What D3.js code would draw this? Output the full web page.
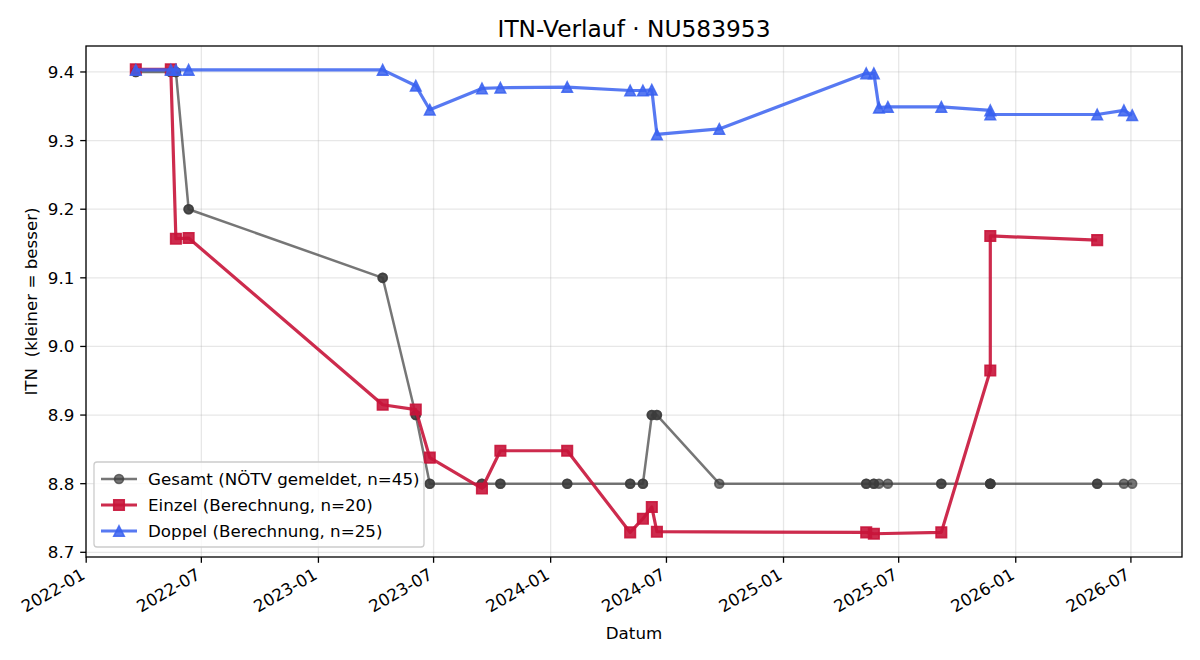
<!DOCTYPE html>
<html>
<head>
<meta charset="utf-8">
<title>ITN-Verlauf</title>
<script src="https://cdn.jsdelivr.net/npm/d3@7/dist/d3.min.js"></script>
<style>
  html, body { margin: 0; padding: 0; background: #ffffff; }
  #chart-wrapper { width: 1200px; height: 660px; }
</style>
</head>
<body>
<div id="chart-wrapper"></div>
<script>
// ############################################################################
// Data
// ############################################################################

const title = "ITN-Verlauf \u00b7 NU583953"

// Einzel (Berechnung)
const einzelDates = [
  "2022-03-20", "2022-05-14", "2022-05-22", "2022-06-11", "2023-04-12",
  "2023-06-03", "2023-06-25", "2023-09-15", "2023-10-14", "2024-01-27",
  "2024-05-05", "2024-05-25", "2024-06-08", "2024-06-16", "2025-05-11",
  "2025-05-23", "2025-09-06", "2025-11-22", "2025-11-22", "2026-05-09"
]
const einzelValues = [
  9.404, 9.404, 9.157, 9.158, 8.915,
  8.908, 8.838, 8.793, 8.848, 8.848,
  8.729, 8.749, 8.766, 8.730, 8.729,
  8.727, 8.729, 8.965, 9.161, 9.155
]

// Doppel (Berechnung)
const doppelDates = [
  "2022-03-20", "2022-05-14", "2022-05-22", "2022-06-11", "2023-04-12",
  "2023-06-03", "2023-06-25", "2023-09-15", "2023-10-14", "2024-01-27",
  "2024-05-05", "2024-05-25", "2024-06-08", "2024-06-16", "2024-09-22",
  "2025-05-11", "2025-05-23", "2025-05-31", "2025-06-14", "2025-09-06",
  "2025-11-22", "2025-11-22", "2026-05-09", "2026-06-20", "2026-07-03"
]
const doppelValues = [
  9.403, 9.403, 9.403, 9.403, 9.403,
  9.380, 9.345, 9.376, 9.377, 9.378,
  9.373, 9.373, 9.374, 9.309, 9.317,
  9.398, 9.398, 9.348, 9.349, 9.349,
  9.344, 9.338, 9.338, 9.344, 9.337
]

// Gesamt (NÖTV gemeldet) - one entry per match, same day may repeat
const gesamtDates = [
  "2022-03-20", "2022-03-20", "2022-05-14", "2022-05-14", "2022-05-22",
  "2022-05-22", "2022-06-11", "2022-06-11", "2023-04-12", "2023-04-12",
  "2023-06-03", "2023-06-03", "2023-06-25", "2023-06-25", "2023-09-15",
  "2023-09-15", "2023-10-14", "2023-10-14", "2024-01-27", "2024-01-27",
  "2024-05-05", "2024-05-05", "2024-05-25", "2024-05-25", "2024-06-08",
  "2024-06-08", "2024-06-16", "2024-06-16", "2024-09-22", "2025-05-11",
  "2025-05-11", "2025-05-23", "2025-05-23", "2025-05-31", "2025-06-14",
  "2025-09-06", "2025-09-06", "2025-11-22", "2025-11-22", "2025-11-22",
  "2025-11-22", "2026-05-09", "2026-05-09", "2026-06-20", "2026-07-03"
]
const gesamtValues = [
  9.40, 9.40, 9.40, 9.40, 9.40,
  9.40, 9.20, 9.20, 9.10, 9.10,
  8.90, 8.90, 8.80, 8.80, 8.80,
  8.80, 8.80, 8.80, 8.80, 8.80,
  8.80, 8.80, 8.80, 8.80, 8.90,
  8.90, 8.90, 8.90, 8.80, 8.80,
  8.80, 8.80, 8.80, 8.80, 8.80,
  8.80, 8.80, 8.80, 8.80, 8.80,
  8.80, 8.80, 8.80, 8.80, 8.80
]

const yTickValues = [8.7, 8.8, 8.9, 9.0, 9.1, 9.2, 9.3, 9.4]


// ############################################################################
// Chart                                                                  View
// ############################################################################

class ItnChart
{
  // ==========================================================================
  // Construct chart
  // ==========================================================================

  constructor(containerId, series)
  {
    this._width  =  1200
    this._height =  660
    this._margins = { left: 86, right: 18, top: 46, bottom: 103 }
    this._font =    "'DejaVu Sans', 'Liberation Sans', sans-serif"
    this._fontSize = "16.7px"
    this._tickLen = 5.8
    this._series =  series

    this._setupContainer(containerId)
    this._setupScales()
    this._drawGrid()
    this._drawSeries()
    this._drawAxes()
    this._drawLegend()
    this._writeMetadata()
  }


  // ==========================================================================
  // Setup svg
  // ==========================================================================

  _setupContainer(containerId)
  {
    this._chart = d3.select("#" + containerId)
      .append("svg")
      .attr("width",  this._width)
      .attr("height", this._height)
      .attr("xmlns",  "http://www.w3.org/2000/svg")
      .style("font-family", this._font)
      .style("background-color", "#ffffff")

    this._x0 = this._margins.left
    this._x1 = this._width - this._margins.right
    this._y0 = this._margins.top
    this._y1 = this._height - this._margins.bottom
  }


  // ==========================================================================
  // Scales, padded by 5% of the data range like matplotlib does
  // ==========================================================================

  _setupScales()
  {
    let allDates =  []
    let allValues = []
    this._series.forEach(s =>
      {
        s.points.forEach(p => { allDates.push(+p.date); allValues.push(p.value) })
      }
    )

    let dMin = d3.min(allDates), dMax = d3.max(allDates)
    let vMin = d3.min(allValues), vMax = d3.max(allValues)
    let dPad = (dMax - dMin) * 0.05
    let vPad = (vMax - vMin) * 0.05

    this._x = d3.scaleTime()
      .domain([new Date(dMin - dPad), new Date(dMax + dPad)])
      .range([this._x0, this._x1])

    this._y = d3.scaleLinear()
      .domain([vMin - vPad, vMax + vPad])
      .range([this._y1, this._y0])

    this._xTicks = d3.timeMonth.every(6).range(
      d3.timeMonth.ceil(this._x.domain()[0]),
      this._x.domain()[1]
    )
  }


  // ==========================================================================
  // Grid lines
  // ==========================================================================

  _drawGrid()
  {
    let grid = this._chart.append("g").attr("class", "grid")

    grid.selectAll("line.gx")
      .data(this._xTicks)
      .join("line")
      .attr("class", "gx")
      .attr("x1", d => this._x(d))
      .attr("x2", d => this._x(d))
      .attr("y1", this._y0)
      .attr("y2", this._y1)
      .attr("stroke", "#b0b0b0")
      .attr("stroke-opacity", 0.3)
      .attr("stroke-width", 1.3)

    grid.selectAll("line.gy")
      .data(yTickValues)
      .join("line")
      .attr("class", "gy")
      .attr("x1", this._x0)
      .attr("x2", this._x1)
      .attr("y1", d => this._y(d))
      .attr("y2", d => this._y(d))
      .attr("stroke", "#b0b0b0")
      .attr("stroke-opacity", 0.3)
      .attr("stroke-width", 1.3)
  }


  // ==========================================================================
  // Marker shapes
  // ==========================================================================

  _markerPath(shape, size)
  {
    let h = size / 2
    if (shape == "square")
      return "M" + (-h) + "," + (-h) + "H" + h + "V" + h + "H" + (-h) + "Z"
    if (shape == "triangle")
      return "M0," + (-h) + "L" + h + "," + h + "L" + (-h) + "," + h + "Z"
    return d3.symbol(d3.symbolCircle, Math.PI * h * h)()
  }


  // ==========================================================================
  // Lines and markers
  // ==========================================================================

  _drawSeries()
  {
    let line = d3.line()
      .x(d => this._x(d.date))
      .y(d => this._y(d.value))

    this._series.forEach(s =>
      {
        let g = this._chart.append("g").attr("class", "series")

        g.append("path")
          .datum(s.points)
          .attr("d", line)
          .attr("fill", "none")
          .attr("stroke", s.color)
          .attr("stroke-opacity", s.alpha)
          .attr("stroke-width", s.lineWidth)
          .attr("stroke-linejoin", "round")
          .attr("stroke-linecap", "butt")

        g.selectAll("path.marker")
          .data(s.points)
          .join("path")
          .attr("class", "marker")
          .attr("transform", d => "translate(" + this._x(d.date) + "," + this._y(d.value) + ")")
          .attr("d", this._markerPath(s.shape, s.markerSize))
          .attr("fill", s.color)
          .attr("fill-opacity", s.alpha)
          .attr("stroke", s.color)
          .attr("stroke-opacity", s.alpha)
          .attr("stroke-width", 1.6)
      }
    )
  }


  // ==========================================================================
  // Axes and frame
  // ==========================================================================

  _drawAxes()
  {
    // Frame
    this._chart.append("rect")
      .attr("x", this._x0)
      .attr("y", this._y0)
      .attr("width",  this._x1 - this._x0)
      .attr("height", this._y1 - this._y0)
      .attr("fill", "none")
      .attr("stroke", "#000000")
      .attr("stroke-width", 1.3)

    // Y ticks
    let yAxis = this._chart.append("g")
    yTickValues.forEach(v =>
      {
        let y = this._y(v)
        yAxis.append("line")
          .attr("x1", this._x0 - this._tickLen)
          .attr("x2", this._x0)
          .attr("y1", y)
          .attr("y2", y)
          .attr("stroke", "#000000")
          .attr("stroke-width", 1.3)
        yAxis.append("text")
          .attr("x", this._x0 - 2 * this._tickLen)
          .attr("y", y)
          .attr("dy", "0.36em")
          .attr("text-anchor", "end")
          .style("font-size", this._fontSize)
          .text(d3.format(".1f")(v))
      }
    )

    // X ticks, rotated like autofmt_xdate
    let xAxis = this._chart.append("g")
    let fmt = d3.timeFormat("%Y-%m")
    this._xTicks.forEach(t =>
      {
        let x = this._x(t)
        xAxis.append("line")
          .attr("x1", x)
          .attr("x2", x)
          .attr("y1", this._y1)
          .attr("y2", this._y1 + this._tickLen)
          .attr("stroke", "#000000")
          .attr("stroke-width", 1.3)
        xAxis.append("text")
          .attr("transform", "translate(" + x + "," + (this._y1 + 21) + ") rotate(-30)")
          .attr("text-anchor", "end")
          .style("font-size", this._fontSize)
          .text(fmt(t))
      }
    )

    // Axis labels
    this._chart.append("text")
      .attr("x", (this._x0 + this._x1) / 2)
      .attr("y", 639)
      .attr("text-anchor", "middle")
      .style("font-size", this._fontSize)
      .text("Datum")

    this._chart.append("text")
      .attr("transform", "translate(37," + ((this._y0 + this._y1) / 2) + ") rotate(-90)")
      .attr("text-anchor", "middle")
      .attr("xml:space", "preserve")
      .style("font-size", this._fontSize)
      .style("white-space", "pre")
      .text("ITN  (kleiner = besser)")
  }


  // ==========================================================================
  // Legend (lower left)
  // ==========================================================================

  _drawLegend()
  {
    let lx = 94, ly = 462, rowH = 26

    let legend = this._chart.append("g").attr("class", "legend")

    legend.append("rect")
      .attr("x", lx)
      .attr("y", ly)
      .attr("width", 330)
      .attr("height", 85)
      .attr("rx", 3)
      .attr("fill", "#ffffff")
      .attr("fill-opacity", 0.8)
      .attr("stroke", "#cccccc")
      .attr("stroke-width", 1.3)

    this._series.forEach((s, i) =>
      {
        let cy = ly + 17 + i * rowH
        legend.append("line")
          .attr("x1", lx + 7)
          .attr("x2", lx + 43)
          .attr("y1", cy)
          .attr("y2", cy)
          .attr("stroke", s.color)
          .attr("stroke-opacity", s.alpha)
          .attr("stroke-width", s.lineWidth)
        legend.append("path")
          .attr("transform", "translate(" + (lx + 25) + "," + cy + ")")
          .attr("d", this._markerPath(s.shape, s.markerSize))
          .attr("fill", s.color)
          .attr("fill-opacity", s.alpha)
          .attr("stroke", s.color)
          .attr("stroke-opacity", s.alpha)
          .attr("stroke-width", 1.6)
        legend.append("text")
          .attr("x", lx + 54)
          .attr("y", cy)
          .attr("dy", "0.36em")
          .style("font-size", this._fontSize)
          .text(s.label)
      }
    )
  }


  // ==========================================================================
  // Title
  // ==========================================================================

  _writeMetadata()
  {
    this._chart.append("text")
      .attr("x", (this._x0 + this._x1) / 2)
      .attr("y", 37)
      .attr("text-anchor", "middle")
      .style("font-size", "23.3px")
      .text(title)
  }
}


// ############################################################################
// Main
// ############################################################################

const parseDate = d3.timeParse("%Y-%m-%d")
const toPoints = (dates, values) => dates.map((d, i) => ({ date: parseDate(d), value: values[i] }))

new ItnChart("chart-wrapper", [
  {
    label: "Gesamt (N\u00d6TV gemeldet, n=45)",
    points: toPoints(gesamtDates, gesamtValues),
    color: "#3c3c3c", alpha: 0.7, lineWidth: 2.5, shape: "circle", markerSize: 9
  },
  {
    label: "Einzel (Berechnung, n=20)",
    points: toPoints(einzelDates, einzelValues),
    color: "#c8143a", alpha: 0.9, lineWidth: 3.2, shape: "square", markerSize: 10.5
  },
  {
    label: "Doppel (Berechnung, n=25)",
    points: toPoints(doppelDates, doppelValues),
    color: "#3a62f0", alpha: 0.85, lineWidth: 3.2, shape: "triangle", markerSize: 10.5
  }
])
</script>
</body>
</html>
